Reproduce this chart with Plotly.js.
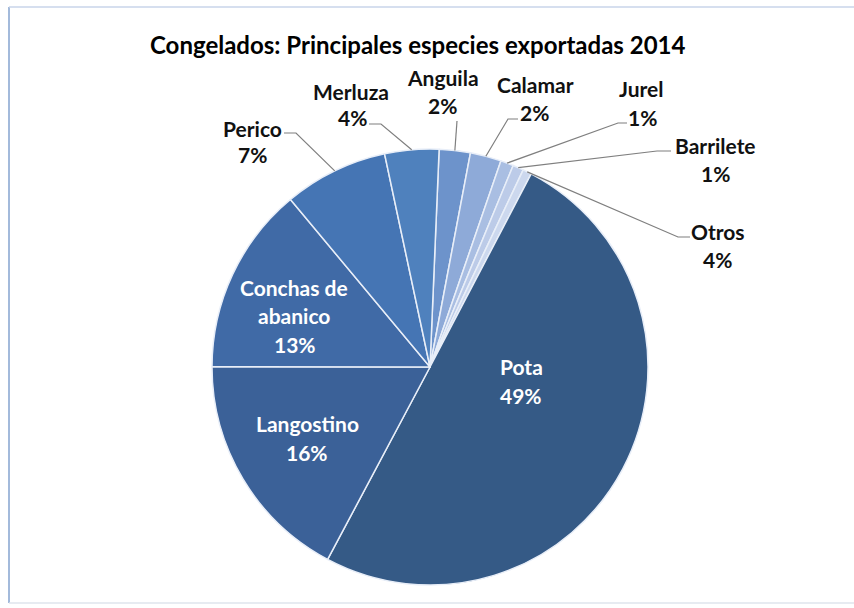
<!DOCTYPE html>
<html>
<head>
<meta charset="utf-8">
<script src="https://cdn.plot.ly/plotly-3.0.1.min.js"></script>
<style>html,body{margin:0;padding:0;background:#fff;}#chart{width:854px;height:608px;}</style>
</head>
<body>
<div id="chart"></div>
<script>
// ---- data ----
const species = ['Anguila', 'Calamar', 'Jurel', 'Barrilete', 'Otros', 'Pota', 'Langostino', 'Conchas de abanico', 'Perico', 'Merluza'];
const shares = [2.3, 2.3, 0.95, 0.8, 0.65, 50.0, 17.2, 13.9, 7.7, 4.0];
const pctLabels = ['2%', '2%', '1%', '1%', '4%', '49%', '16%', '13%', '7%', '4%'];
const titleText = 'Congelados: Principales especies exportadas 2014';

// ---- style / layout ----
const W = 854, H = 608;
const cx = 430, cy = 367, R = 218;
const rotation = 2.4;
const colors = ['#6d93cb', '#8eaad8', '#a9bee2', '#bccbe8', '#ccd8ee', '#355a86', '#3b6198', '#406aa6', '#4575b4', '#4f81bd'];
const FONT = 'Lato, "Open Sans", sans-serif';
const LABEL_SIZE = 21;
const TITLE_SIZE = 24;

const px = x => x / W;
const py = y => 1 - y / H;

// slice mid angles (deg, clockwise from 12 o'clock) from the data
const total = shares.reduce((a, b) => a + b, 0);
const midAngle = {};
let cum = 0;
shares.forEach((v, i) => {
  midAngle[species[i]] = rotation + 360 * (cum + v / 2) / total;
  cum += v;
});
function rim(name) {
  const a = midAngle[name] * Math.PI / 180;
  return [cx + R * Math.sin(a), cy - R * Math.cos(a)];
}
const pct = name => pctLabels[species.indexOf(name)];

// label placement
const labelSpec = [
  {n: 'Perico', t: 'Perico', a: [252, 128], b: [252, 155], s: [284, 133], k: [296, 133]},
  {n: 'Merluza', t: 'Merluza', a: [351, 92], b: [352, 118], s: [369, 124], k: [381, 124]},
  {n: 'Anguila', t: 'Anguila', a: [443, 78], b: [442, 106], s: [457, 121], k: [457, 121]},
  {n: 'Calamar', t: 'Calamar', a: [535, 84], b: [534, 112], s: [518, 119], k: [508, 119]},
  {n: 'Jurel', t: 'Jurel', a: [641, 89], b: [642, 117], s: [627, 123], k: [618, 123]},
  {n: 'Barrilete', t: 'Barrilete', a: [715, 146], b: [715, 174], s: [671, 151], k: [657, 151]},
  {n: 'Otros', t: 'Otros', a: [718, 232], b: [717, 260], s: [690, 237], k: [678, 237]}
];
const insideSpec = [
  {n: 'Pota', lines: ['Pota'], pos: [[521, 366]], b: [521, 395]},
  {n: 'Langostino', lines: ['Langostino'], pos: [[307, 423]], b: [307, 452]},
  {n: 'Conchas de abanico', lines: ['Conchas de', 'abanico'], pos: [[294, 287], [294, 315]], b: [295, 344]}
];

const annotations = [];
const shapes = [];
function addText(text, x, y, color) {
  annotations.push({
    text: text, x: px(x), y: py(y), xref: 'paper', yref: 'paper',
    xanchor: 'center', yanchor: 'middle', showarrow: false,
    font: {family: FONT, size: LABEL_SIZE, color: color, weight: 'bold'}
  });
}
labelSpec.forEach(l => {
  addText(l.t, l.a[0], l.a[1], '#111111');
  addText(pct(l.n), l.b[0], l.b[1], '#111111');
  const r = rim(l.n);
  shapes.push({
    type: 'path', xref: 'paper', yref: 'paper',
    path: `M ${px(l.s[0])} ${py(l.s[1])} L ${px(l.k[0])} ${py(l.k[1])} L ${px(r[0])} ${py(r[1])}`,
    line: {color: '#7f7f7f', width: 1.2}
  });
});
insideSpec.forEach(l => {
  l.lines.forEach((t, i) => addText(t, l.pos[i][0], l.pos[i][1], '#ffffff'));
  addText(pct(l.n), l.b[0], l.b[1], '#ffffff');
});

// title
annotations.push({
  text: titleText, x: px(417), y: py(44), xref: 'paper', yref: 'paper',
  xanchor: 'center', yanchor: 'middle', showarrow: false,
  font: {family: FONT, size: TITLE_SIZE, color: '#000000', weight: 'bold'}
});

// chart frame
shapes.push({type: 'line', xref: 'paper', yref: 'paper', x0: px(9), x1: px(9), y0: py(7), y1: py(603), line: {color: '#a3badb', width: 2}});
shapes.push({type: 'line', xref: 'paper', yref: 'paper', x0: px(9), x1: 1, y0: py(7), y1: py(7), line: {color: '#c8d5ea', width: 1.5}});
shapes.push({type: 'line', xref: 'paper', yref: 'paper', x0: px(9), x1: 1, y0: py(603), y1: py(603), line: {color: '#dfe4ec', width: 1.5}});

const trace = {
  type: 'pie',
  labels: species,
  values: shares,
  sort: false,
  direction: 'clockwise',
  rotation: rotation,
  textinfo: 'none',
  hoverinfo: 'label+percent',
  marker: {colors: colors, line: {color: '#e8eef8', width: 1.5}},
  domain: {x: [px(cx - R), px(cx + R)], y: [(H - cy - R) / H, (H - cy + R) / H]},
  showlegend: false
};

Plotly.newPlot('chart', [trace], {
  width: W, height: H,
  margin: {l: 0, r: 0, t: 0, b: 0},
  paper_bgcolor: '#ffffff',
  showlegend: false,
  annotations: annotations,
  shapes: shapes
}, {displayModeBar: false, staticPlot: true});
</script>
</body>
</html>
